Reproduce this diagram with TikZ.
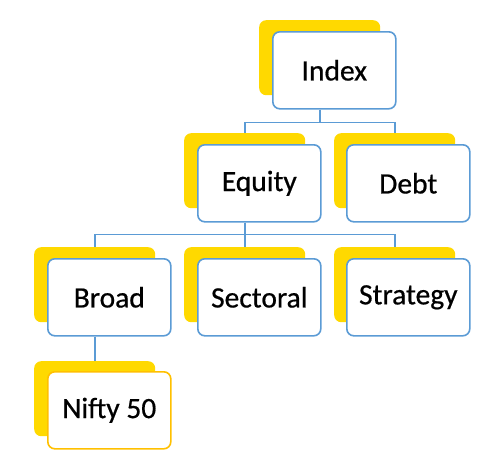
\documentclass[tikz,border=0pt]{standalone}
\usepackage{fontspec}
\setmainfont{Carlito}
\newfontfamily\boxfont{Carlito}[FakeBold=0.6]
\definecolor{gold}{HTML}{FFD900}
\definecolor{blueb}{HTML}{5B9BD5}
\definecolor{orangeb}{HTML}{FFC000}
\begin{document}
\begin{tikzpicture}[x=1pt,y=-1pt,
  back/.style={fill=gold, rounded corners=7pt, minimum width=121pt, minimum height=75pt, inner sep=0pt, anchor=north west},
  front/.style={draw=blueb, line width=1.6pt, fill=white, rounded corners=7pt, minimum width=123pt, minimum height=77pt, inner sep=0pt, anchor=north west, font=\boxfont\fontsize{29.5}{32}\selectfont, text=black},
  conn/.style={draw=blueb, line width=1.6pt}]
\useasboundingbox (0,0) rectangle (480,456);
% Level 1
\node[back] (indexback) at (259,20) {};
\node[front] (index) at (272,31) {Index};
% Level 2
\node[back] (equityback) at (184,133) {};
\node[front] (equity) at (197,144) {Equity};
\node[back] (debtback) at (334,133) {};
\node[front] (debt) at (346,144) {Debt};
% Level 3
\node[back] (broadback) at (34,247) {};
\node[front] (broad) at (47,258) {Broad};
\node[back] (sectoralback) at (184,247) {};
\node[front] (sectoral) at (197,258) {Sectoral};
\node[back] (strategyback) at (334,247) {};
\node[front] (strategy) at (346,258) {Strategy};
% Level 4
\node[back] (niftyback) at (34,361) {};
\node[front, draw=orangeb] (nifty) at (47,371) {Nifty 50};
% connectors
\draw[conn] (indexback.south |- index.south) -- ++(0,13) -| (equityback.north);
\draw[conn] (indexback.south |- index.south) -- ++(0,13) -| (debtback.north);
\draw[conn] (equityback.south |- equity.south) -- ++(0,12) -| (broadback.north);
\draw[conn] (equityback.south |- equity.south) -- ++(0,12) -| (sectoralback.north);
\draw[conn] (equityback.south |- equity.south) -- ++(0,12) -| (strategyback.north);
\draw[conn] (broadback.south |- broad.south) -- (niftyback.north);
\end{tikzpicture}
\end{document}
